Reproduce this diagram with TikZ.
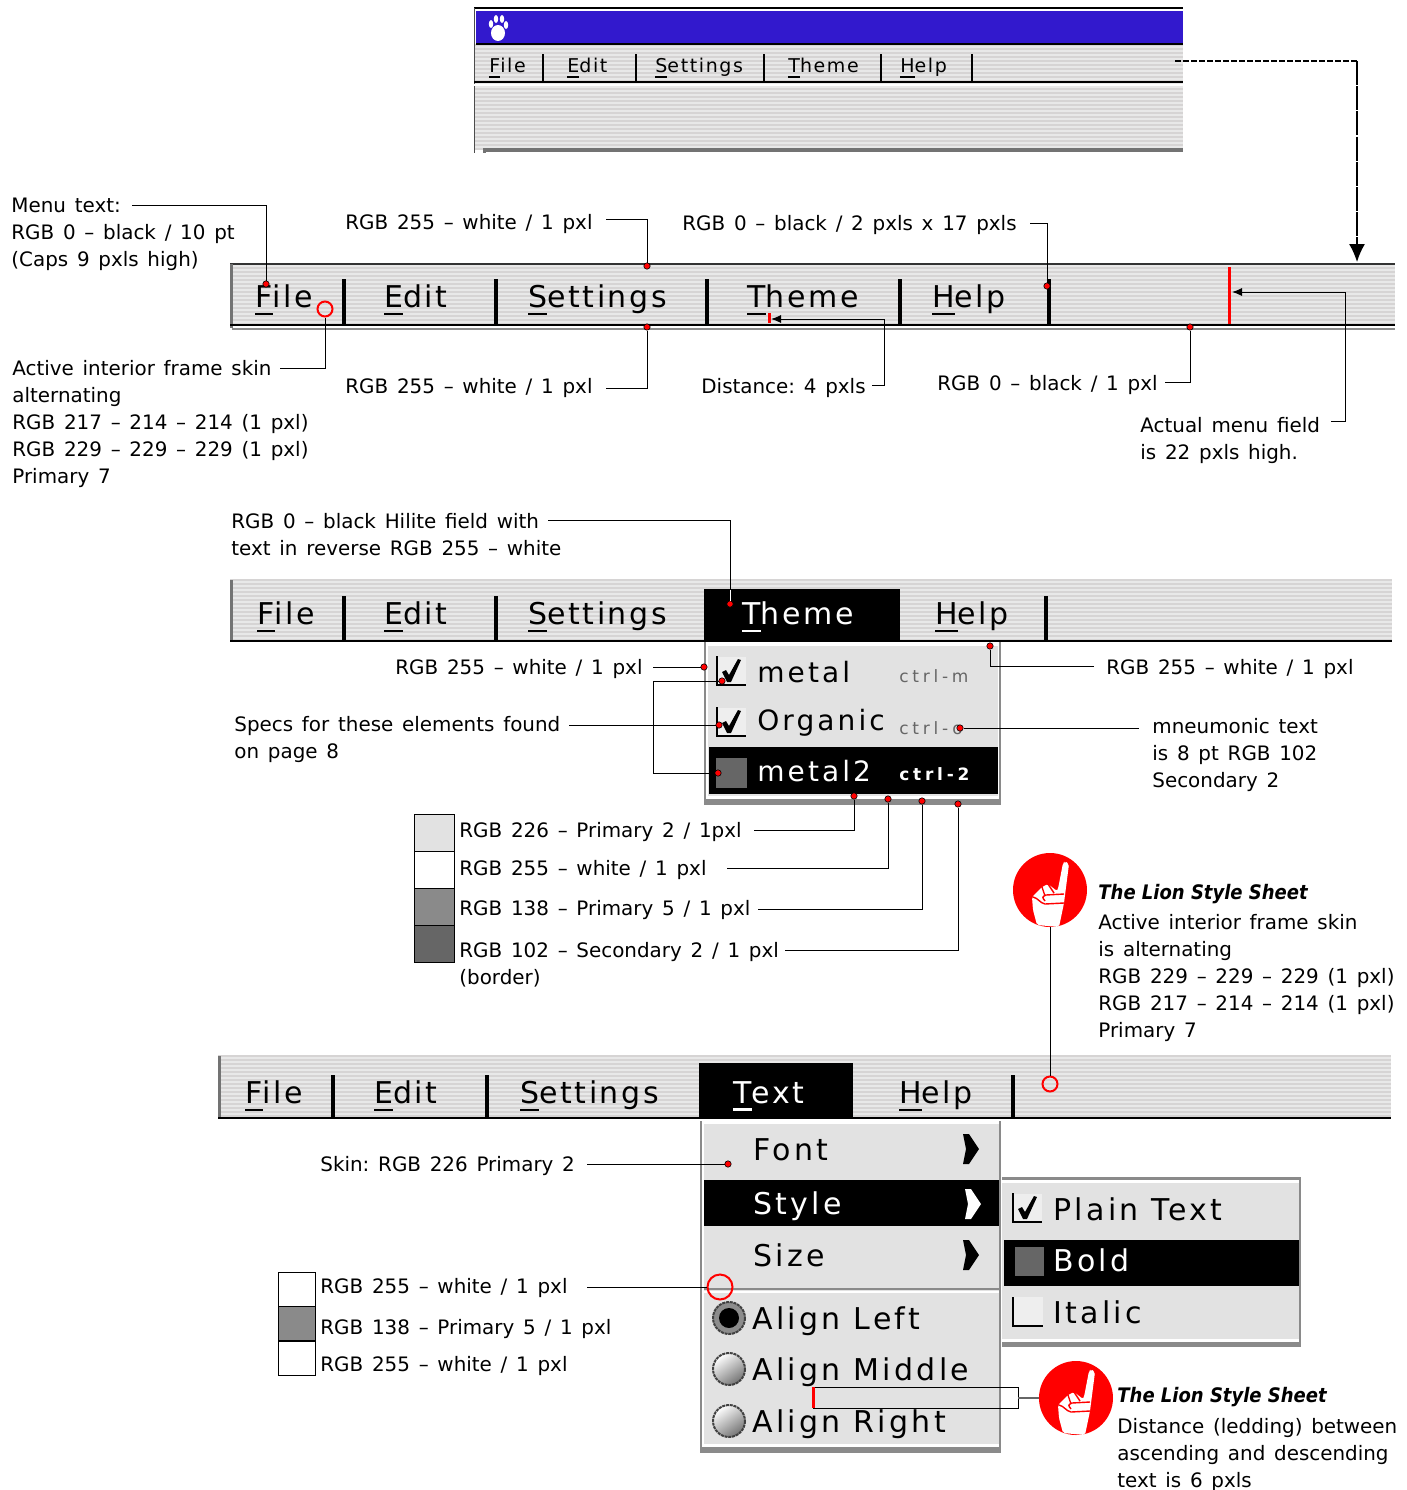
\documentclass[tikz,border=0pt]{standalone}
\usepackage{fontspec}
\setmainfont{DejaVu Sans}
\newfontfamily\barfont[LetterSpace=8.5]{DejaVu Sans}
\newfontfamily\menufont[LetterSpace=11]{DejaVu Sans}
\newfontfamily\ctrlfont[LetterSpace=22]{DejaVu Sans}
\newfontfamily\lionfont{DejaVu Sans Condensed}
\newcommand{\lblfont}{\fontsize{9.95}{13.5}\selectfont\frenchspacing\spaceskip=.44em\relax}
\usetikzlibrary{arrows.meta,calc,positioning}
\definecolor{skinlight}{RGB}{232,232,232}
\definecolor{skindark}{RGB}{214,212,212}
\definecolor{prim2}{RGB}{226,226,226}
\definecolor{prim5}{RGB}{138,138,138}
\definecolor{sec2}{RGB}{102,102,102}
\definecolor{titleblue}{RGB}{50,25,205}
\newcommand{\mnem}[1]{\leavevmode\setbox0\hbox{#1}\rlap{\rule[-.45ex]{\wd0}{.14ex}}\box0}
\newcommand{\skinband}[4]{%
  \fill[skinlight] (#1,#2) rectangle (#3,#4);
  \pgfmathsetmacro{\ynext}{#2+4}
  \foreach \y in {#2,\ynext,...,#4}
    \draw[skindark,line width=1pt] (#1,\y) -- (#3,\y);
}
\tikzset{
    lbl/.style={font=\lblfont,anchor=west,align=left,inner sep=0pt,yshift=-1pt},
    lionhead/.style={lbl,font=\fontsize{10}{13.5}\lionfont\bfseries\itshape},
    bartext/.style={font=\fontsize{15}{18}\barfont,anchor=west,inner sep=0pt},
    itemtext/.style={font=\fontsize{15}{18}\menufont,anchor=west,inner sep=0pt},
    themetext/.style={font=\fontsize{14}{18}\menufont,anchor=west,inner sep=0pt},
    smalltext/.style={font=\fontsize{9.5}{12}\barfont,anchor=west,inner sep=0pt},
    ctrltext/.style={font=\fontsize{8.5}{10}\ctrlfont,anchor=west,inner sep=0pt},
    reddot/.style={circle,fill=red,draw=black,line width=.3pt,inner sep=0pt,minimum size=3.2pt},
    redring/.style={circle,draw=red,line width=1pt,inner sep=0pt,minimum size=7.5pt},
    leader/.style={black,line width=.5pt},
    sepbar/.style={black,line width=2pt},
    swatch/.style={draw=black,line width=.4pt},
    checkbox/.pic={
      \fill[prim2!60!white] (-13,-14) rectangle (15,14);
      \draw[black,line width=1pt] (-14,-15) -- (-14,14) -- (15,14);
      \fill[black] (-9,1) -- (-5,-1) -- (-2,4) -- (7,-12) -- (10,-11) -- (0,11) -- (-4,11) -- cycle;
    },
    radio/.pic={
      \shade[top color=white,bottom color=black!55,shading angle=35] (0,0) circle (16);
      \draw[black!75,line width=1pt,dash pattern=on 1.5pt off .4pt] (0,0) circle (16);
    },
    radioset/.pic={
      \fill[black!45] (0,0) circle (16);
      \draw[black!75,line width=1pt,dash pattern=on 1.5pt off .4pt] (0,0) circle (16);
      \fill[black] (0,0) circle (10);
    },
    subarrow/.pic={
      \fill[#1] (-7,-15) -- (-1,-15) -- (9,0) -- (-1,15) -- (-7,15) -- (-4,0) -- cycle;
    },
    lion/.pic={
      \fill[red] (0,0) circle (37);
      \fill[white,rounded corners=1pt] (13,-27) -- (15,-29) -- (19,-26) -- (14,13) -- (9,37) -- (-13,35)
        -- (-17,20) -- (-18,7) -- (-8,-3) -- (-2,-6) -- (7,1) -- (8,-1) -- cycle;
      \draw[red,line width=.7pt] (-17,7) .. controls (-12,8) and (-10,13) .. (-5,14) -- (14,13)
        (14,4) -- (-4,5) .. controls (-8,7) .. (-5,11)
        (-8,-3) -- (-5,6) (-2,-6) -- (4,3);
    }
}

\begin{document}
\begin{tikzpicture}[x=0.5pt,y=-0.5pt]
  \useasboundingbox (0,0) rectangle (1407,1490);

  % window at the top
  \skinband{474}{45}{1183}{150}
  \fill[titleblue] (476,11) rectangle (1183,43);
  \draw[black,line width=.8pt] (474,8) -- (1183,8);
  \draw[black!70,line width=.5pt] (474,8) -- (474,153);
  \draw[black,line width=.6pt] (476,44) -- (1183,44);
  \fill[white] (498,33) ellipse (7 and 8);
  \foreach \x/\y in {491/24,496/19,502/19,506/25} \fill[white] (\x,\y) ellipse (2.2 and 4);
  \foreach \nam/\x/\m/\rest in {winfile/489/F/ile,winedit/567/E/dit,winset/655/S/ettings,wintheme/788/T/heme,winhelp/900/H/elp}
    \node[smalltext] (\nam) at (\x,68) {\mnem{\m}\rest};
  \foreach \x in {543,636,764,881,972} \draw[black,line width=1.1pt] (\x,54) -- (\x,82);
  \draw[black,line width=1pt] (474,82) -- (1183,82);
  \draw[white,line width=1pt] (474,85) -- (1183,85);
  \fill[black!55] (483,148) rectangle (1183,152);
  \fill[black!55] (483,148) rectangle (486,153);

  % first menu bar
  \skinband{230}{264}{1395}{325}
  \draw[black!80,line width=.7pt] (230,264) -- (1395,264);
  \fill[black!55] (230,264) rectangle (233,328);
  \draw[black,line width=1.2pt] (230,325) -- (1395,325);
  \draw[black!45,line width=.8pt] (232,329) -- (1395,329);
  \foreach \nam/\x/\m/\rest in {onefile/255/F/ile,oneedit/384/E/dit,oneset/528/S/ettings,onetheme/747/T/heme,onehelp/932/H/elp}
    \node[bartext] (\nam) at (\x,300) {\mnem{\m}\rest};
  \foreach \x in {344,496,707,900,1049} \draw[sepbar] (\x,279) -- (\x,325);
  \draw[red,line width=1.5pt] (1229,267) -- (1229,324);
  \draw[red,line width=1.5pt] (769,313) -- (769,323);
  \coordinate (distbar) at (771,319);
  \coordinate (fieldbar) at (1232,292);

  % second menu bar with the open menu
  \skinband{230}{580}{1392}{641}
  \fill[black!55] (230,580) rectangle (233,641);
  \draw[black,line width=1.1pt] (230,641) -- (1392,641);
  \fill[black] (704,589) rectangle (900,642);
  \foreach \nam/\x/\m/\rest in {twofile/257/F/ile,twoedit/384/E/dit,twoset/528/S/ettings,twohelp/935/H/elp}
    \node[bartext] (\nam) at (\x,617) {\mnem{\m}\rest};
  \node[bartext,white] (twotheme) at (742,617) {\mnem{T}heme};
  \foreach \x in {344,496,1046} \draw[sepbar] (\x,596) -- (\x,640);
  \fill[prim5] (704,642) rectangle (1001,805);
  \fill[white] (706,642) rectangle (999,799);
  \fill[prim2] (708,646) rectangle (998,796);
  \fill[black] (709,747) rectangle (998,794);
  \pic at (731,671) {checkbox};
  \pic at (731,722) {checkbox};
  \fill[sec2,draw=black!60,line width=.3pt] (716,758) rectangle (746,787);
  \node[themetext] (itemmetal) at (757,672) {metal};
  \node[themetext] (itemorganic) at (757,723) {Organic};
  \node[themetext,white] (itemmetaltwo) at (757,771) {metal2};
  \node[ctrltext,sec2] (ctrlm) at (899,676) {ctrl-m};
  \node[ctrltext,sec2] (ctrlo) at (899,728) {ctrl-o};
  \node[ctrltext,white,font=\fontsize{8.5}{10}\ctrlfont\bfseries] (ctrltwo) at (899,774) {ctrl-2};

  % swatches of the open menu
  \foreach \nam/\y/\col in {swa/814/prim2,swb/851/white,swc/888/prim5,swd/925/sec2}
    \filldraw[swatch,fill=\col] (414,\y) rectangle ++(40,37);

  % third menu bar with the two menus
  \skinband{218}{1056}{1391}{1117}
  \fill[black!55] (218,1056) rectangle (221,1119);
  \draw[black,line width=1.1pt] (218,1118) -- (1391,1118);
  \fill[black] (699,1063) rectangle (853,1119);
  \foreach \nam/\x/\m/\rest in {thrfile/245/F/ile,thredit/374/E/dit,thrset/520/S/ettings,thrhelp/899/H/elp}
    \node[bartext] (\nam) at (\x,1096) {\mnem{\m}\rest};
  \node[bartext,white] (thrtext) at (733,1096) {\mnem{T}ext};
  \foreach \x in {333,487,1013} \draw[sepbar] (\x,1075) -- (\x,1118);
  \fill[prim5] (700,1121) rectangle (1001,1453);
  \fill[white] (702,1121) rectangle (999,1447);
  \fill[prim2] (704,1124) rectangle (999,1444);
  \fill[black] (704,1180) rectangle (999,1226);
  \draw[prim5,line width=1.2pt] (704,1289) -- (999,1289);
  \draw[white,line width=.8pt] (704,1292) -- (999,1292);
  \node[itemtext] (itemfont) at (753,1150) {Font};
  \node[itemtext,white] (itemstyle) at (753,1206) {Style};
  \node[itemtext] (itemsize) at (753,1255) {Size};
  \pic at (970,1149) {subarrow=black};
  \pic at (972,1204) {subarrow=white};
  \pic at (970,1255) {subarrow=black};
  \pic at (729,1318) {radioset};
  \pic at (729,1369) {radio};
  \pic at (729,1421) {radio};
  \node[itemtext] (itemleft) at (752,1321) {Align Left};
  \node[itemtext] (itemmiddle) at (752,1372) {Align Middle};
  \node[itemtext] (itemright) at (752,1424) {Align Right};
  \fill[prim5] (1002,1177) rectangle (1301,1347);
  \fill[white] (1002,1180) rectangle (1299,1342);
  \fill[prim2] (1002,1183) rectangle (1299,1339);
  \fill[black] (1004,1240) rectangle (1299,1286);
  \pic at (1027,1208) {checkbox};
  \fill[sec2,draw=black!60,line width=.3pt] (1015,1247) rectangle (1043,1275);
  \fill[prim2!60!white] (1014,1297) rectangle (1043,1326);
  \draw[black,line width=1pt] (1013,1297) -- (1013,1326) -- (1043,1326);
  \node[itemtext] (itemplain) at (1053,1209) {Plain Text};
  \node[itemtext,white] (itembold) at (1053,1260) {Bold};
  \node[itemtext] (itemitalic) at (1053,1312) {Italic};
  \draw[black,line width=.4pt] (813,1387) rectangle (1018,1408);
  \draw[red,line width=1.5pt] (813,1387) -- (813,1408);
  \foreach \y/\col in {1272/white,1306/prim5,1341/white}
    \filldraw[swatch,fill=\col] (278,\y) rectangle ++(37,34.5);

  % lion badges
  \pic at (1050,890) {lion};
  \pic at (1076,1398) {lion};
  \coordinate (lionone) at (1050,927);
  \coordinate (liontwo) at (1039,1398);
  \coordinate (boxtwo) at (1018,1398);

  % labels
  \node[lbl] (menutext) at (11,232) {Menu text:\\RGB 0 -- black / 10 pt\\(Caps 9 pxls high)};
  \node[lbl] (topwhite) at (345,222) {RGB 255 -- white / 1 pxl};
  \node[lbl] (topblack) at (682,223) {RGB 0 -- black / 2 pxls x 17 pxls};
  \node[lbl] (skintext) at (12,422) {Active interior frame skin\\alternating\\RGB 217 -- 214 -- 214 (1 pxl)\\RGB 229 -- 229 -- 229 (1 pxl)\\Primary 7};
  \node[lbl] (lowwhite) at (345,386) {RGB 255 -- white / 1 pxl};
  \node[lbl] (distance) at (701,386) {Distance: 4 pxls};
  \node[lbl] (lowblack) at (937,383) {RGB 0 -- black / 1 pxl};
  \node[lbl] (fieldtext) at (1140,438) {Actual menu field\\is 22 pxls high.};
  \node[lbl] (hilite) at (231,533) {RGB 0 -- black Hilite field with\\text in reverse RGB 255 -- white};
  \node[lbl] (menuwhite) at (395,667) {RGB 255 -- white / 1 pxl};
  \node[lbl] (rightwhite) at (1106,667) {RGB 255 -- white / 1 pxl};
  \node[lbl] (specs) at (234,737) {Specs for these elements found\\on page 8};
  \node[lbl] (mneumonic) at (1152,753) {mneumonic text\\is 8 pt RGB 102\\Secondary 2};
  \node[lbl] (swatchone) at (459,830) {RGB 226 -- Primary 2 / 1pxl};
  \node[lbl] (swatchtwo) at (459,868) {RGB 255 -- white / 1 pxl};
  \node[lbl] (swatchthree) at (459,908) {RGB 138 -- Primary 5 / 1 pxl};
  \node[lbl] (swatchfour) at (459,963) {RGB 102 -- Secondary 2 / 1 pxl\\(border)};
  \node[lionhead] (lionheadone) at (1098,892) {The Lion Style Sheet};
  \node[lbl] (liontextone) at (1098,976) {Active interior frame skin\\is alternating\\RGB 229 -- 229 -- 229 (1 pxl)\\RGB 217 -- 214 -- 214 (1 pxl)\\Primary 7};
  \node[lbl] (skinlabel) at (320,1164) {Skin: RGB 226 Primary 2};
  \node[lbl] (lowone) at (320,1286) {RGB 255 -- white / 1 pxl};
  \node[lbl] (lowtwo) at (320,1327) {RGB 138 -- Primary 5 / 1 pxl};
  \node[lbl] (lowthree) at (320,1364) {RGB 255 -- white / 1 pxl};
  \node[lionhead] (lionheadtwo) at (1117,1395) {The Lion Style Sheet};
  \node[lbl] (liontexttwo) at (1117,1453) {Distance (ledding) between\\ascending and descending\\text is 6 pxls};

  % red markers
  \foreach \nam/\x/\y in {dfile/266/284,dtop/647/266,dsep/1047/286,dlow/647/327,dblack/1190/327,
      dhilite/730/604,dmenu/704/667,dcheck/722/681,dspecs/719/725,dmetal/718/773,dright/990/646,dctrl/960/728,
      dsa/854/796,dsb/888/799,dsc/922/801,dsd/958/804,dskin/728/1164}
    \node[reddot] (\nam) at (\x,\y) {};
  \node[redring] (ringfile) at (325,309) {};
  \node[redring] (ringbar) at (1050,1084) {};
  \node[redring,minimum size=12.5pt] (ringmenu) at (720,1287) {};

  % free ends of the leaders
  \foreach \nam/\x/\y in {smenu/132/205,stop/606/219,sblack/1030/223,sskin/280/368,slow/606/388,sdist/872/385,
      slowb/1165/382,sfield/1331/421,shilite/548/520,smw/653/667,srw/1094/666,sspecs/569/725,smn/1139/728,
      ssa/754/830,ssb/727/868,ssc/758/909,ssd/785/950,sskn/587/1164,slo/587/1287,
      dashstart/1175/61,dashcorner/1357/61,dashend/1357/262}
    \coordinate (\nam) at (\x,\y);

  \foreach \a/\b in {smenu/dfile,stop/dtop,sblack/dsep,sskin/ringfile,slow/dlow,slowb/dblack,shilite/dhilite,
      srw/dright,ssa/dsa,ssb/dsb,ssc/dsc,ssd/dsd}
    \draw[leader] (\a) -| (\b);
  \foreach \a/\b in {smw/dmenu,sspecs/dspecs,smn/dctrl,sskn/dskin,slo/ringmenu}
    \draw[leader] (\a) -- (\b);
  \draw[leader,-{Latex[length=5pt,width=4pt]}] (sdist) -| ($(distbar)+(113,0)$) -- (distbar);
  \draw[leader,-{Latex[length=5pt,width=4pt]}] (sfield) -| ($(fieldbar)+(113,0)$) -- (fieldbar);
  \draw[leader] (dcheck) -- ++(-69,0) |- (dmetal);
  \draw[leader] (lionone) -- (ringbar);
  \draw[black!60,line width=.8pt] (boxtwo) -- (liontwo);
  \draw[white,line width=.5pt] (730,590) -- (dhilite);
  \draw[black,line width=.7pt,dash pattern=on 3pt off 1pt] (dashstart) -- (dashcorner);
  \draw[black,line width=.7pt,dash pattern=on 12pt off .6pt,-{Latex[length=9pt,width=8pt]}] (dashcorner) -- (dashend);
\end{tikzpicture}
\end{document}
